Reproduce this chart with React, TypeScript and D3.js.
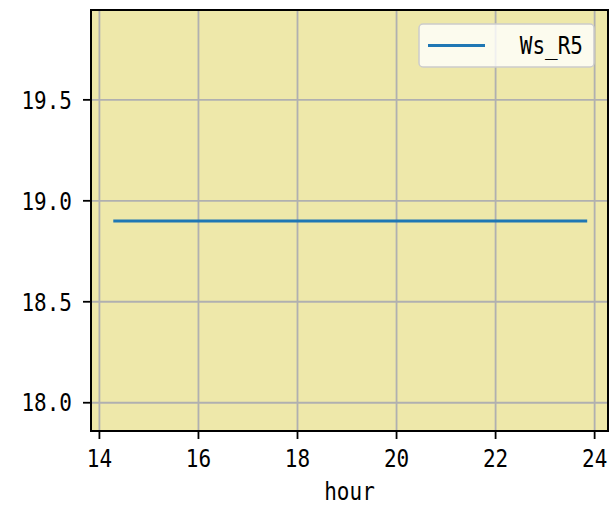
import React from "react";
import * as d3 from "d3";

// hours of the day (x) and wind speed readings (y)
const hours = [14.28, 15.28, 16.28, 17.28, 18.28, 19.28, 20.28, 21.28, 22.28, 23.28, 23.85];
const wsR5 = [18.9, 18.9, 18.9, 18.9, 18.9, 18.9, 18.9, 18.9, 18.9, 18.9, 18.9];
const xTicks = [14, 16, 18, 20, 22, 24];
const yTicks = [18.0, 18.5, 19.0, 19.5];
const seriesName = "Ws_R5";

const W = 613;
const H = 520;
const margin = { left: 91, right: 5, top: 10, bottom: 89 };
const FONT = '"DejaVu Sans Mono", monospace';
const SX = 0.84; // squeeze mono glyphs to half-width like a CJK gothic

const Label: React.FC<{
  x: number;
  y: number;
  anchor: "start" | "middle" | "end";
  dy?: string;
  children: React.ReactNode;
}> = ({ x, y, anchor, dy, children }) => (
  <text
    transform={`translate(${x},${y}) scale(${SX},1)`}
    dy={dy}
    fontSize={25}
    textAnchor={anchor}
    fill="#000"
  >
    {children}
  </text>
);

const App: React.FC = () => {
  const x = d3
    .scaleLinear()
    .domain([13.83, 24.27])
    .range([margin.left, W - margin.right]);
  const y = d3
    .scaleLinear()
    .domain([17.86, 19.945])
    .range([H - margin.bottom, margin.top]);

  const line = d3
    .line<number>()
    .x((_, i) => x(hours[i]))
    .y((d) => y(d));

  const x0 = margin.left;
  const x1 = W - margin.right;
  const y0 = H - margin.bottom;
  const y1 = margin.top;

  // legend box
  const lg = { x: 419, y: 24, w: 175, h: 43 };

  return (
    <svg
      width={W}
      height={H}
      style={{ position: "absolute", left: 0, top: 0, background: "#fff" }}
      fontFamily={FONT}
    >
      <rect x={x0} y={y1} width={x1 - x0} height={y0 - y1} fill="#eee8aa" />

      {/* grid */}
      {xTicks.map((t) => (
        <line key={"gx" + t} x1={x(t)} x2={x(t)} y1={y1} y2={y0} stroke="#b0b0b0" strokeWidth={1.8} />
      ))}
      {yTicks.map((t) => (
        <line key={"gy" + t} x1={x0} x2={x1} y1={y(t)} y2={y(t)} stroke="#b0b0b0" strokeWidth={1.8} />
      ))}

      <path d={line(wsR5) ?? ""} fill="none" stroke="#1f77b4" strokeWidth={3.2} />

      {/* frame */}
      <rect x={x0} y={y1} width={x1 - x0} height={y0 - y1} fill="none" stroke="#000" strokeWidth={2} />

      {/* x axis */}
      {xTicks.map((t) => (
        <g key={"tx" + t}>
          <line x1={x(t)} x2={x(t)} y1={y0} y2={y0 + 8} stroke="#000" strokeWidth={1.8} />
          <Label x={x(t)} y={467} anchor="middle">
            {t}
          </Label>
        </g>
      ))}
      <Label x={(x0 + x1) / 2} y={500} anchor="middle">
        hour
      </Label>

      {/* y axis */}
      {yTicks.map((t) => (
        <g key={"ty" + t}>
          <line x1={x0 - 8} x2={x0} y1={y(t)} y2={y(t)} stroke="#000" strokeWidth={1.8} />
          <Label x={72} y={y(t)} dy="0.35em" anchor="end">
            {d3.format(".1f")(t)}
          </Label>
        </g>
      ))}

      {/* legend */}
      <rect
        x={lg.x}
        y={lg.y}
        width={lg.w}
        height={lg.h}
        rx={4}
        fill="#fff"
        fillOpacity={0.8}
        stroke="#cccccc"
        strokeWidth={1.5}
      />
      <line x1={428} x2={485} y1={lg.y + lg.h / 2} y2={lg.y + lg.h / 2} stroke="#1f77b4" strokeWidth={3.2} />
      <Label x={583} y={lg.y + lg.h / 2} dy="0.35em" anchor="end">
        {seriesName}
      </Label>
    </svg>
  );
};

export default App;
